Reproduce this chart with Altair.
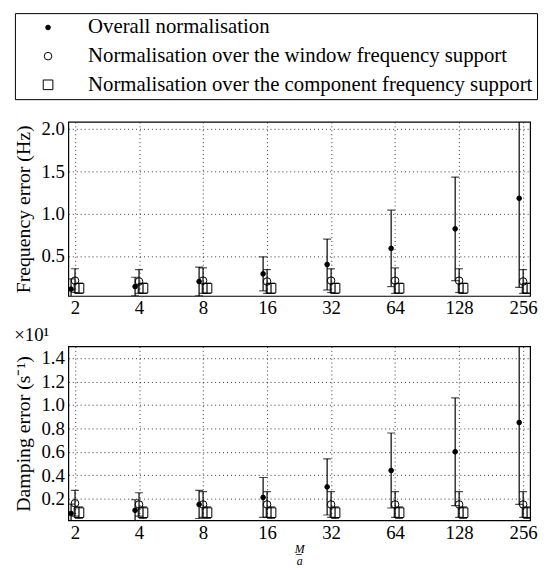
import altair as alt
import pandas as pd

M = [2, 4, 8, 16, 32, 64, 128, 256]
SERIES = ["Overall normalisation",
          "Normalisation over the window frequency support",
          "Normalisation over the component frequency support"]

# Frequency error (Hz): means and standard deviations
freq_overall_mean = [0.11, 0.14, 0.20, 0.29, 0.40, 0.59, 0.82, 1.18]
freq_overall_std = [0.12, 0.11, 0.17, 0.20, 0.30, 0.45, 0.61, 1.05]
freq_window_mean = [0.21, 0.20, 0.21, 0.20, 0.21, 0.21, 0.21, 0.20]
freq_window_std = [0.14, 0.14, 0.15, 0.14, 0.14, 0.15, 0.14, 0.14]
freq_comp_mean = [0.12, 0.12, 0.12, 0.12, 0.12, 0.12, 0.12, 0.12]
freq_comp_std = [0.06, 0.06, 0.06, 0.06, 0.06, 0.06, 0.06, 0.06]

# Damping error (x10 s^-1): means and standard deviations
damp_overall_mean = [0.073, 0.10, 0.15, 0.21, 0.30, 0.44, 0.60, 0.85]
damp_overall_std = [0.08, 0.09, 0.12, 0.17, 0.24, 0.32, 0.46, 0.70]
damp_window_mean = [0.16, 0.15, 0.15, 0.15, 0.15, 0.15, 0.15, 0.15]
damp_window_std = [0.11, 0.10, 0.11, 0.11, 0.11, 0.11, 0.11, 0.11]
damp_comp_mean = [0.08, 0.08, 0.08, 0.08, 0.08, 0.08, 0.08, 0.08]
damp_comp_std = [0.05, 0.05, 0.05, 0.05, 0.05, 0.05, 0.05, 0.05]

FONT = "Liberation Serif"
OFFSETS = [-4, 0, 4]


def long_df(means, stds):
    rows = []
    for name, mu, sd in zip(SERIES, means, stds):
        for m, a, s in zip(M, mu, sd):
            rows.append({"M": m, "series": name, "mean": a, "lo": a - s, "hi": a + s})
    return pd.DataFrame(rows)


freq_df = long_df([freq_overall_mean, freq_window_mean, freq_comp_mean],
                  [freq_overall_std, freq_window_std, freq_comp_std])
damp_df = long_df([damp_overall_mean, damp_window_mean, damp_comp_mean],
                  [damp_overall_std, damp_window_std, damp_comp_std])

x_scale = alt.Scale(type="log", base=2, domain=[1.86, 276], nice=False)

legend = alt.Legend(title=None, orient="none", legendX=-54, legendY=-110,
                    labelFont=FONT, labelFontSize=21, labelColor="black",
                    strokeColor="black", fillColor="white", padding=4,
                    rowPadding=7, labelOffset=30, symbolOffset=19,
                    symbolStrokeColor="black", symbolStrokeWidth=1,
                    labelLimit=700)


def panel(df, ydomain, yvalues, ytitle, xtitle, with_legend, title=None):
    xaxis = alt.Axis(values=M, format="d", title=xtitle, grid=True)
    yscale = alt.Scale(domain=ydomain, nice=False, zero=False)
    yaxis = alt.Axis(values=yvalues, format=".1f", title=ytitle, grid=True)
    layers = []
    for name, off in zip(SERIES, OFFSETS):
        b = alt.Chart(df).transform_filter(alt.datum.series == name)
        layers.append(b.mark_rule(color="black", strokeWidth=1.2, xOffset=off, clip=True).encode(
            x=alt.X("M:Q", scale=x_scale, axis=xaxis),
            y=alt.Y("lo:Q", scale=yscale, axis=yaxis), y2="hi:Q"))
        for fld in ["lo", "hi"]:
            layers.append(b.mark_tick(orient="horizontal", size=8, thickness=1.2, color="black",
                                      xOffset=off, clip=True).encode(
                x=alt.X("M:Q", scale=x_scale, axis=xaxis),
                y=alt.Y(f"{fld}:Q", scale=yscale, axis=yaxis)))
    for name, off in zip(SERIES, OFFSETS):
        b = alt.Chart(df).transform_filter(alt.datum.series == name)
        lg = legend if with_legend else None
        layers.append(b.mark_point(strokeWidth=1, opacity=1, xOffset=off,
                                   clip=True, filled=False).encode(
            x=alt.X("M:Q", scale=x_scale, axis=xaxis),
            y=alt.Y("mean:Q", scale=yscale, axis=yaxis),
            shape=alt.Shape("series:N", scale=alt.Scale(domain=SERIES, range=["circle", "circle", "square"]), legend=lg),
            fill=alt.Fill("series:N", scale=alt.Scale(domain=SERIES, range=["black", "transparent", "transparent"]), legend=lg),
            stroke=alt.Stroke("series:N", scale=alt.Scale(domain=SERIES, range=["black", "black", "black"]), legend=lg),
            size=alt.Size("series:N", scale=alt.Scale(domain=SERIES, range=[22, 95, 85]), legend=lg),
        ))
    ch = alt.layer(*layers).properties(width=467, height=176)
    if title is not None:
        ch = ch.properties(title=alt.TitleParams(title, anchor="start", font=FONT, fontSize=19,
                                                 fontWeight="normal", offset=1, color="black"))
    return ch


top = panel(freq_df, [0.03, 2.08], [0.5, 1.0, 1.5, 2.0], "Frequency error (Hz)", None, True)
bottom = panel(damp_df, [0.014, 1.5], [0.2, 0.4, 0.6, 0.8, 1.0, 1.2, 1.4],
               "Damping error (s⁻¹)", ["M̲", "a"], False, title="×10¹")

chart = alt.vconcat(top, bottom, spacing=7).configure(
    padding={"left": 5, "top": 1, "right": 0, "bottom": 0}
).configure_view(stroke="black", strokeWidth=1.2).configure_axis(
    labelFont=FONT, labelFontSize=19, labelColor="black", titleFont=FONT,
    titleFontSize=20, titleFontWeight="normal", titleColor="black",
    ticks=False, domain=False, labelPadding=4, titlePadding=7,
    gridColor="black", gridDash=[1, 3], gridWidth=0.8, gridOpacity=1,
).configure_axisX(labelPadding=3, titleFontStyle="italic", titleFontSize=12,
                  titleLineHeight=13, titlePadding=1)

chart.save("out.html", embed_options={"renderer": "svg", "actions": False})
